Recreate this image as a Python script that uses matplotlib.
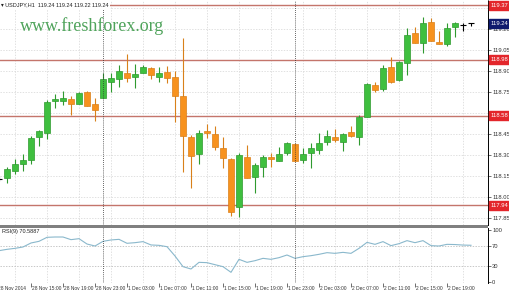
import numpy as np
import matplotlib
matplotlib.use('Agg')
import matplotlib.pyplot as plt
import matplotlib.transforms as mtransforms

plt.rcParams['font.family'] = ['Liberation Sans', 'DejaVu Sans']

# ---- data (28 Nov 11:00 .. 2 Dec 22:00) ----
opens = [118.128, 118.136, 118.186, 118.236, 118.264, 118.428, 118.457, 118.686, 118.686, 118.700,
         118.664, 118.750, 118.664, 118.707, 118.821, 118.843, 118.886, 118.857, 118.886, 118.921,
         118.857, 118.893, 118.857, 118.721, 118.428, 118.307, 118.471, 118.450, 118.350, 118.271,
         117.928, 118.286, 118.143, 118.214, 118.286, 118.257, 118.314, 118.378, 118.264, 118.314,
         118.336, 118.393, 118.428, 118.393, 118.464, 118.428, 118.571, 118.800, 118.771, 118.928,
         118.836, 118.957, 119.171, 119.100, 119.250, 119.107, 119.093, 119.214, 119.228, 119.240]
highs = [118.150, 118.214, 118.271, 118.307, 118.436, 118.479, 118.693, 118.736, 118.757, 118.721,
         118.750, 118.757, 118.707, 118.886, 118.886, 118.943, 119.021, 118.950, 118.943, 118.928,
         118.928, 118.936, 118.900, 119.136, 118.443, 118.479, 118.521, 118.507, 118.428, 118.278,
         118.314, 118.371, 118.243, 118.300, 118.314, 118.357, 118.393, 118.386, 118.350, 118.386,
         118.457, 118.479, 118.486, 118.457, 118.507, 118.586, 118.814, 118.821, 118.943, 119.000,
         118.971, 119.207, 119.214, 119.286, 119.278, 119.186, 119.243, 119.250, 119.243, 119.240]
lows = [118.114, 118.100, 118.164, 118.186, 118.236, 118.364, 118.414, 118.636, 118.657, 118.586,
        118.664, 118.650, 118.543, 118.707, 118.750, 118.786, 118.821, 118.778, 118.886, 118.843,
        118.821, 118.814, 118.536, 118.178, 118.064, 118.236, 118.421, 118.336, 118.207, 117.864,
        117.857, 118.136, 118.028, 118.143, 118.214, 118.257, 118.300, 118.257, 118.243, 118.207,
        118.307, 118.371, 118.393, 118.328, 118.428, 118.371, 118.571, 118.750, 118.757, 118.814,
        118.828, 118.871, 119.100, 119.028, 119.114, 119.093, 119.078, 119.143, 119.186, 119.220]
closes = [118.128, 118.200, 118.236, 118.264, 118.421, 118.471, 118.678, 118.700, 118.707, 118.664,
          118.743, 118.650, 118.621, 118.843, 118.850, 118.900, 118.850, 118.878, 118.928, 118.871,
          118.886, 118.850, 118.721, 118.436, 118.293, 118.457, 118.457, 118.357, 118.278, 117.893,
          118.300, 118.136, 118.228, 118.286, 118.271, 118.307, 118.386, 118.257, 118.307, 118.350,
          118.386, 118.436, 118.407, 118.450, 118.436, 118.571, 118.807, 118.764, 118.921, 118.821,
          118.964, 119.157, 119.100, 119.243, 119.114, 119.093, 119.207, 119.243, 119.228, 119.240]

rsi = [60.2, 62.8, 64.7, 67.3, 75.0, 78.2, 85.9, 86.5, 86.5, 81.4,
       83.3, 73.0, 69.2, 78.2, 80.8, 82.0, 74.4, 75.6, 77.6, 71.2,
       70.5, 67.9, 50.0, 29.5, 25.0, 37.8, 37.2, 33.3, 29.5, 18.6,
       43.6, 37.8, 41.0, 45.5, 43.6, 46.8, 51.9, 45.5, 48.7, 50.6,
       53.2, 56.4, 55.1, 57.0, 55.1, 64.7, 76.2, 72.4, 77.6, 69.9,
       73.7, 79.5, 75.6, 79.5, 69.9, 69.2, 72.4, 72.0, 71.0, 70.6]

level_prices = [119.37, 118.98, 118.58, 117.94]
last_price = 119.24
price_ticks = [117.85, 118.00, 118.15, 118.30, 118.45, 118.60, 118.75, 118.90, 119.05, 119.20, 119.35]
rsi_ticks = [0, 30, 70, 100]

time_pos = [0, 4, 8, 12, 16, 20, 24, 28, 32, 36, 40, 44, 48, 52, 56]
time_labels = ['28 Nov 2014', '28 Nov 15:00', '28 Nov 19:00', '28 Nov 23:00', '1 Dec 03:00',
               '1 Dec 07:00', '1 Dec 11:00', '1 Dec 15:00', '1 Dec 19:00', '1 Dec 23:00',
               '2 Dec 03:00', '2 Dec 07:00', '2 Dec 11:00', '2 Dec 15:00', '2 Dec 19:00']
day_starts = [13, 37]

# ---- layout in pixels ----
W, H = 510, 295
fig = plt.figure(figsize=(W / 100, H / 100), dpi=100)
fig.patch.set_facecolor('white')

def rect(top, bottom, right=488):
    return [0, 1 - bottom / H, right / W, (bottom - top) / H]

ax = fig.add_axes(rect(0, 225))
ax2 = fig.add_axes(rect(228, 283), sharex=ax)

o = np.array(opens); hi = np.array(highs); lo = np.array(lows); c = np.array(closes)
x = np.arange(len(o))

green, green_edge = '#3fbf3f', '#2f9a2f'
orange, orange_edge = '#f7921e', '#d9801a'

up = c > o
down = c < o
doji = c == o

# wicks
wick_cols = np.where(up, green_edge, np.where(down, orange_edge, 'black'))
ax.vlines(x, lo, hi, colors=wick_cols, lw=0.8, zorder=3)
# bodies
ax.bar(x[up], (c - o)[up], bottom=o[up], width=0.64, color=green,
       edgecolor=green_edge, lw=0.5, zorder=4)
ax.bar(x[down], (o - c)[down], bottom=c[down], width=0.64, color=orange,
       edgecolor=orange_edge, lw=0.5, zorder=4)
ax.hlines(o[doji], x[doji] - 0.4, x[doji] + 0.4, colors='black', lw=0.8, zorder=4)

ax.set_xlim(0.125, 61.125)
ax.set_ylim(117.8, 119.407)

grid_kw = dict(color='#d4d4d4', lw=0.5, ls=(0, (2, 2)), zorder=1)
for k in range(2, 61, 4):
    ax.axvline(k, **grid_kw)
    ax2.axvline(k, **grid_kw)
for p in price_ticks:
    ax.axhline(p, **grid_kw)

for p in level_prices:
    ax.axhline(p, color='#c4756b', lw=1.0, zorder=2)

for d in day_starts:
    ax.axvline(d, color='#333333', lw=0.6, ls=(0, (1, 1.5)), zorder=5)
    ax2.axvline(d, color='#333333', lw=0.6, ls=(0, (1, 1.5)), zorder=5)

# price axis on the right
ax.set_yticks(price_ticks)
ax.set_yticklabels(['%.2f' % p for p in price_ticks])
ax.tick_params(axis='y', left=False, labelleft=False, right=True, labelright=True,
               length=2, width=0.5, pad=1, labelsize=4.2, colors='#333333')
ax.tick_params(axis='x', bottom=False, labelbottom=False)
for s in ['top', 'left', 'bottom']:
    ax.spines[s].set_visible(False)
ax.spines['right'].set_linestyle((0, (1, 1)))
ax.spines['right'].set_linewidth(0.7)

trans = mtransforms.blended_transform_factory(ax.transAxes, ax.transData)
box_kw = dict(transform=trans, fontsize=4.2, color='white', va='center', ha='left',
              zorder=10, clip_on=False)
for p in level_prices:
    ax.text(1.006, p, '%.2f' % p,
            bbox=dict(boxstyle='square,pad=0.35', fc='#e3262b', ec='#e3262b'), **box_kw)
ax.text(1.006, last_price, '%.2f' % last_price,
        bbox=dict(boxstyle='square,pad=0.35', fc='#0f1a6e', ec='#0f1a6e'), **box_kw)

ax.text(0.003, 0.978, '\u25be USDJPY,H1  119.24 119.24 119.22 119.24', transform=ax.transAxes,
        fontsize=4.0, color='#222222', va='center', ha='left', zorder=11,
        bbox=dict(boxstyle='square,pad=0.2', fc='white', ec='none'))

ax.text(20 / 488, 1 - 31 / 225, 'www.freshforex.org', transform=ax.transAxes,
        family=['Liberation Serif', 'DejaVu Serif'], fontsize=13, color='#4fa35b',
        ha='left', va='baseline', zorder=11)

# ---- RSI panel ----
ax2.plot(x, rsi, color='#8ab8cc', lw=0.8, zorder=4)
ax2.set_ylim(-1.9, 103.8)
for lv in [30, 70]:
    ax2.axhline(lv, color='#b0b0b0', lw=0.5, ls=(0, (2, 2)), zorder=2)
ax2.set_yticks(rsi_ticks)
ax2.set_yticklabels([str(v) for v in rsi_ticks])
ax2.tick_params(axis='y', left=False, labelleft=False, right=True, labelright=True,
                length=2, width=0.5, pad=1, labelsize=4.2, colors='#333333')
ax2.set_xticks(time_pos[1:])
ax2.tick_params(axis='x', direction='out', length=3, width=0.5, labelbottom=False,
                colors='#333333')
for s in ['top', 'left', 'bottom']:
    ax2.spines[s].set_visible(False)
ax2.spines['right'].set_linestyle((0, (1, 1)))
ax2.spines['right'].set_linewidth(0.7)
ax2.text(0.004, 0.93, 'RSI(9) 70.5887', transform=ax2.transAxes, fontsize=4.0,
         color='#222222', va='center', ha='left')

ttrans = mtransforms.blended_transform_factory(ax2.transData, fig.transFigure)
for k, lab in zip(time_pos, time_labels):
    xx = k + 0.15 if k > 0 else -0.1
    ax2.text(xx, 1 - 289 / H, lab, transform=ttrans, fontsize=3.5, color='#333333',
             ha='left', va='center', clip_on=False)

# separator bar between the two panels
fig.patches.append(plt.Rectangle((0, 1 - 227.5 / H), 488 / W, 3 / H, transform=fig.transFigure,
                                 fc='#808080', ec='none', zorder=20))

fig.savefig('out.png', dpi=100)
